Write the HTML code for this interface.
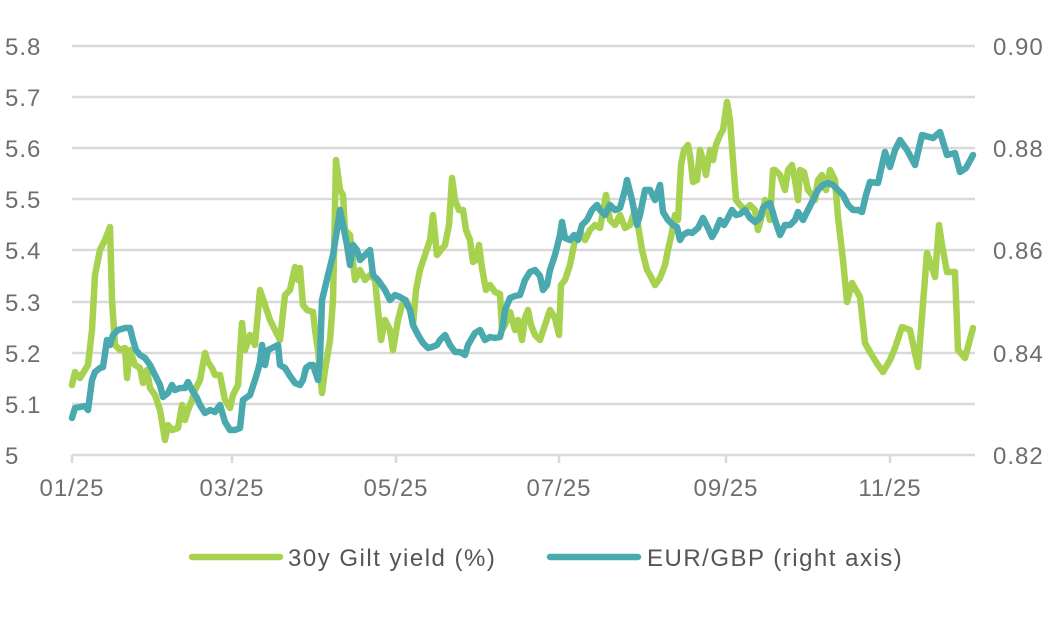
<!DOCTYPE html>
<html><head><meta charset="utf-8"><style>
body{margin:0;background:#fff;}
text{font-family:"Liberation Sans",sans-serif;fill:#6e6e6e;font-size:24px;letter-spacing:1px;}
</style></head><body>
<svg width="1064" height="618" viewBox="0 0 1064 618" xmlns="http://www.w3.org/2000/svg">
<g stroke="#d9d9d9" stroke-width="2.5">
<line x1="72" x2="975" y1="46" y2="46"/><line x1="72" x2="975" y1="97" y2="97"/>
<line x1="72" x2="975" y1="148" y2="148"/><line x1="72" x2="975" y1="199" y2="199"/>
<line x1="72" x2="975" y1="250" y2="250"/><line x1="72" x2="975" y1="302" y2="302"/>
<line x1="72" x2="975" y1="353" y2="353"/><line x1="72" x2="975" y1="404" y2="404"/>
<line x1="72" x2="975" y1="455" y2="455"/>
<line x1="72" x2="72" y1="455" y2="463"/><line x1="232" x2="232" y1="455" y2="463"/>
<line x1="396" x2="396" y1="455" y2="463"/><line x1="559" x2="559" y1="455" y2="463"/>
<line x1="726" x2="726" y1="455" y2="463"/><line x1="890" x2="890" y1="455" y2="463"/>
</g>
<g text-anchor="start">
<text x="5" y="55">5.8</text><text x="5" y="106">5.7</text><text x="5" y="157">5.6</text>
<text x="5" y="208">5.5</text><text x="5" y="259">5.4</text><text x="5" y="311">5.3</text>
<text x="5" y="362">5.2</text><text x="5" y="413">5.1</text><text x="5" y="464">5</text>
<text x="993" y="55">0.90</text><text x="993" y="157">0.88</text><text x="993" y="259">0.86</text>
<text x="993" y="362">0.84</text><text x="993" y="464">0.82</text>
</g>
<g text-anchor="middle">
<text x="72" y="496">01/25</text><text x="232" y="496">03/25</text><text x="396" y="496">05/25</text>
<text x="559" y="496">07/25</text><text x="726" y="496">09/25</text><text x="890" y="496">11/25</text>
</g>
<g fill="none" stroke-width="6.5" stroke-linejoin="round" stroke-linecap="round">
<polyline stroke="#a6d24f" points="72,385 75,372 80,378 88,365 92,330 95,275 100,250 105,240 110,227 112,300 115,345 120,350 125,348 127,378 130,350 135,365 140,368 143,383 147,370 150,388 155,395 160,410 165,440 168,425 172,430 178,428 182,405 185,420 188,410 192,400 195,390 200,380 205,353 208,362 212,368 215,375 220,375 225,400 230,408 233,395 238,385 242,323 245,350 250,335 255,345 260,290 265,305 270,320 275,330 280,340 285,295 290,290 295,267 298,280 300,268 303,305 307,310 313,312 315,330 318,350 322,393 325,370 330,340 333,300 336,160 340,190 343,195 345,230 350,235 355,280 360,270 365,280 370,275 375,280 378,310 381,340 385,320 390,330 393,350 398,320 402,305 406,300 410,310 413,325 416,290 420,270 425,255 430,240 433,215 437,255 441,250 445,245 449,225 452,178 455,200 459,210 463,210 466,230 470,240 473,262 476,260 479,245 482,268 486,290 490,285 495,292 500,294 502,330 505,325 510,312 515,330 518,320 522,340 525,318 528,310 531,325 535,335 540,340 545,325 550,310 555,318 559,335 561,285 565,280 570,265 575,240 580,232 585,240 590,230 595,225 600,228 606,195 610,220 615,225 620,215 625,228 630,225 635,210 638,225 642,250 647,270 650,275 655,285 660,278 665,265 668,250 672,232 675,215 678,220 681,165 684,150 688,145 690,155 693,182 697,180 700,150 703,160 706,175 710,150 713,160 716,145 720,135 723,130 727,102 730,120 733,160 736,200 740,205 745,210 750,205 755,210 758,230 762,215 765,200 770,220 773,170 775,170 780,175 785,190 788,170 792,165 795,180 798,200 800,170 804,172 808,190 812,195 815,200 818,180 822,175 826,190 830,170 835,180 838,217 843,260 847,302 852,283 860,297 865,343 870,352 876,362 883,372 890,360 895,348 902,327 910,330 918,367 927,253 935,277 939,225 942,245 947,272 955,272 958,350 965,358 973,328"/>
<polyline stroke="#4aa9ae" points="72,418 75,408 80,407 85,406 88,410 92,380 95,372 100,368 103,367 107,340 110,345 113,335 118,330 125,328 130,328 133,340 136,350 140,355 145,358 150,365 155,375 160,385 163,397 168,393 172,385 175,390 180,388 185,388 188,382 192,390 197,398 200,405 205,413 210,410 215,412 220,405 225,422 230,430 235,430 240,428 243,400 250,395 255,380 258,370 260,362 262,345 265,365 268,350 272,348 278,345 280,365 285,368 290,376 295,383 300,385 303,380 306,368 310,365 313,365 318,380 320,358 322,300 328,275 333,255 337,230 340,210 343,225 347,245 350,265 353,245 357,250 360,260 365,255 370,250 373,275 378,280 385,290 390,300 395,295 400,297 405,300 410,310 413,325 418,335 423,343 428,348 432,347 437,345 440,340 445,335 450,345 455,352 460,352 465,355 468,345 472,338 475,333 480,330 485,340 490,337 495,338 500,337 503,325 505,310 510,298 515,296 520,295 525,280 530,272 535,270 540,276 543,290 547,285 550,270 555,255 560,235 562,222 565,238 570,240 574,235 578,240 582,225 587,220 592,210 597,205 600,210 605,215 610,205 615,210 620,208 625,190 627,180 632,200 637,225 640,215 645,190 650,190 655,200 660,185 663,212 668,220 673,225 677,227 680,240 683,235 688,232 692,233 698,228 703,218 708,228 712,237 716,230 720,220 724,225 728,218 732,210 736,215 740,214 745,210 750,218 755,222 760,218 763,208 766,205 770,203 775,220 780,235 785,225 790,225 795,220 798,212 803,220 808,210 813,200 818,190 823,185 828,183 833,185 838,190 843,195 848,205 853,210 858,210 862,212 866,195 870,182 878,183 885,152 890,167 895,150 900,140 907,150 915,165 922,135 933,138 940,132 947,155 955,153 960,172 966,168 973,155"/>
<line x1="192" x2="280" y1="557" y2="557" stroke="#a6d24f"/>
<line x1="550" x2="638" y1="557" y2="557" stroke="#4aa9ae"/>
</g>
<text x="288" y="566" style="fill:#555;letter-spacing:1.5px">30y Gilt yield (%)</text>
<text x="647" y="566" style="fill:#555;letter-spacing:1.5px">EUR/GBP (right axis)</text>
</svg>
</body></html>
